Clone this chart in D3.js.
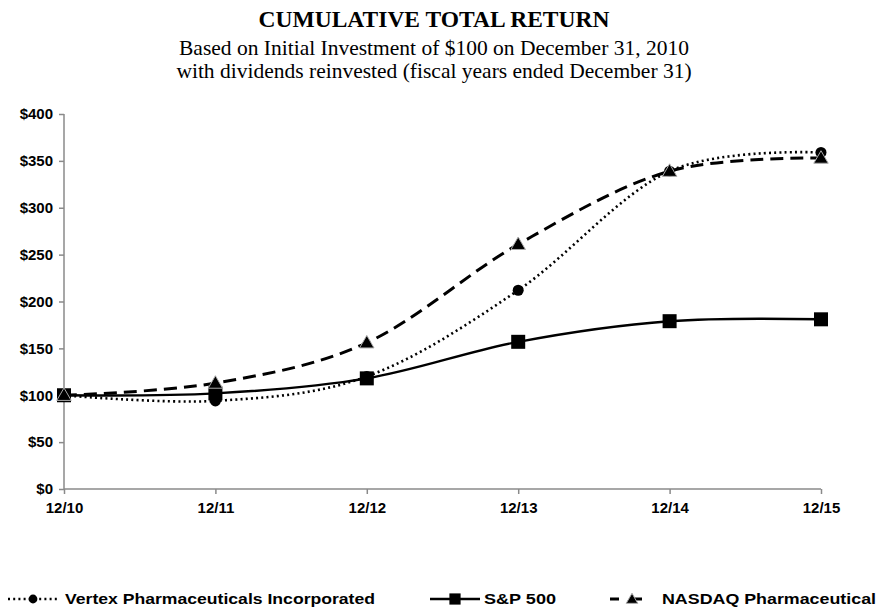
<!DOCTYPE html>
<html>
<head>
<meta charset="utf-8">
<script src="https://cdn.jsdelivr.net/npm/d3@7"></script>
<style>
  html, body { margin: 0; padding: 0; background: #fff; }
  svg { display: block; }
</style>
</head>
<body>
<svg id="chart" width="883" height="612"></svg>
<script>
const categories = ["12/10", "12/11", "12/12", "12/13", "12/14", "12/15"];
const vertexValues = [100, 94, 120, 212, 339, 359];
const spValues = [100, 102, 118, 157, 179, 181];
const nasdaqValues = [100, 113, 156, 261, 339, 353];
const yTicks = [0, 50, 100, 150, 200, 250, 300, 350, 400];
const seriesNames = ["Vertex Pharmaceuticals Incorporated", "S&P 500", "NASDAQ Pharmaceutical"];
const titleLines = ["CUMULATIVE TOTAL RETURN",
  "Based on Initial Investment of $100 on December 31, 2010",
  "with dividends reinvested (fiscal years ended December 31)"];

const svg = d3.select("#chart");
const x = d3.scalePoint().domain(categories).range([64, 821]);
const y = d3.scaleLinear().domain([0, 400]).range([489, 114]);
const axisColor = "#8a8a8a";
const sans = "'Liberation Sans', Arial, sans-serif";
const serif = "'Liberation Serif', 'Times New Roman', serif";

// Titles
svg.append("text").attr("x", 434).attr("y", 27).attr("text-anchor", "middle")
  .style("font-family", serif).style("font-weight", "bold").style("font-size", "23.5px")
  .text(titleLines[0]);
svg.append("text").attr("x", 434).attr("y", 55).attr("text-anchor", "middle")
  .style("font-family", serif).style("font-size", "21.5px").text(titleLines[1]);
svg.append("text").attr("x", 434).attr("y", 78).attr("text-anchor", "middle")
  .style("font-family", serif).style("font-size", "21.5px").text(titleLines[2]);

// Axes
const yAxis = d3.axisLeft(y).tickValues(yTicks).tickSize(5).tickPadding(6)
  .tickFormat(d => "$" + d);
const gy = svg.append("g").attr("transform", "translate(64,0)").call(yAxis);
const xAxis = d3.axisBottom(x).tickSize(5).tickPadding(8);
const gx = svg.append("g").attr("transform", "translate(0,489)").call(xAxis);
[gx, gy].forEach(g => {
  g.select(".domain").attr("stroke", axisColor).attr("stroke-width", 1.5);
  g.selectAll(".tick line").attr("stroke", axisColor).attr("stroke-width", 1.5);
  g.selectAll(".tick text").attr("fill", "#000")
    .style("font-family", sans).style("font-weight", "bold").style("font-size", "15px");
});
gx.select(".domain").attr("d", "M64,0H821");
gy.select(".domain").attr("d", "M0," + y(0) + "V" + y(400));

// Lines
const line = d3.line().x((d, i) => x(categories[i])).y(d => y(d))
  .curve(d3.curveCardinal.tension(0));

const series = [
  { name: seriesNames[0], values: vertexValues, dash: "2,3.2", width: 2.6, marker: "circle" },
  { name: seriesNames[1], values: spValues, dash: null, width: 2.4, marker: "square" },
  { name: seriesNames[2], values: nasdaqValues, dash: "13,7", width: 3, marker: "triangle" }
];

function drawMarker(g, type, cx, cy, scale) {
  if (type === "circle") {
    g.append("circle").attr("cx", cx).attr("cy", cy).attr("r", 5.5 * scale).attr("fill", "#000");
  } else if (type === "square") {
    const s = 14 * scale;
    g.append("rect").attr("x", cx - s / 2).attr("y", cy - s / 2).attr("width", s).attr("height", s)
      .attr("fill", "#000");
  } else {
    g.append("path").attr("d", d3.symbol().type(d3.symbolTriangle).size(90 * scale * scale)())
      .attr("transform", `translate(${cx},${cy + 1})`)
      .attr("fill", "#000").attr("stroke", "#aaa").attr("stroke-width", 1);
  }
}

series.forEach(s => {
  const g = svg.append("g");
  g.append("path").datum(s.values).attr("d", line).attr("fill", "none")
    .attr("stroke", "#000").attr("stroke-width", s.width)
    .attr("stroke-dasharray", s.dash);
  s.values.forEach((v, i) => drawMarker(g, s.marker, x(categories[i]), y(v), 1));
});

// Legend
const legY = 599;
const legend = [
  { x1: 8, x2: 57, mx: 33, tx: 65, tw: 310 },
  { x1: 430, x2: 480, mx: 455, tx: 484, tw: 72 },
  { x1: 610, x2: 656, mx: 632, tx: 662, tw: 214 }
];
legend.forEach((l, i) => {
  const s = series[i];
  const g = svg.append("g");
  g.append("line").attr("x1", l.x1).attr("x2", l.x2).attr("y1", legY).attr("y2", legY)
    .attr("stroke", "#000").attr("stroke-width", s.width)
    .attr("stroke-dasharray", i === 0 ? "2,3.2" : (i === 2 ? "9,14" : null));
  drawMarker(g, s.marker, l.mx, legY, 0.8);
  g.append("text").attr("x", l.tx).attr("y", 604)
    .style("font-family", sans).style("font-weight", "bold").style("font-size", "15px")
    .attr("textLength", l.tw).attr("lengthAdjust", "spacingAndGlyphs")
    .text(s.name);
});
</script>
</body>
</html>
